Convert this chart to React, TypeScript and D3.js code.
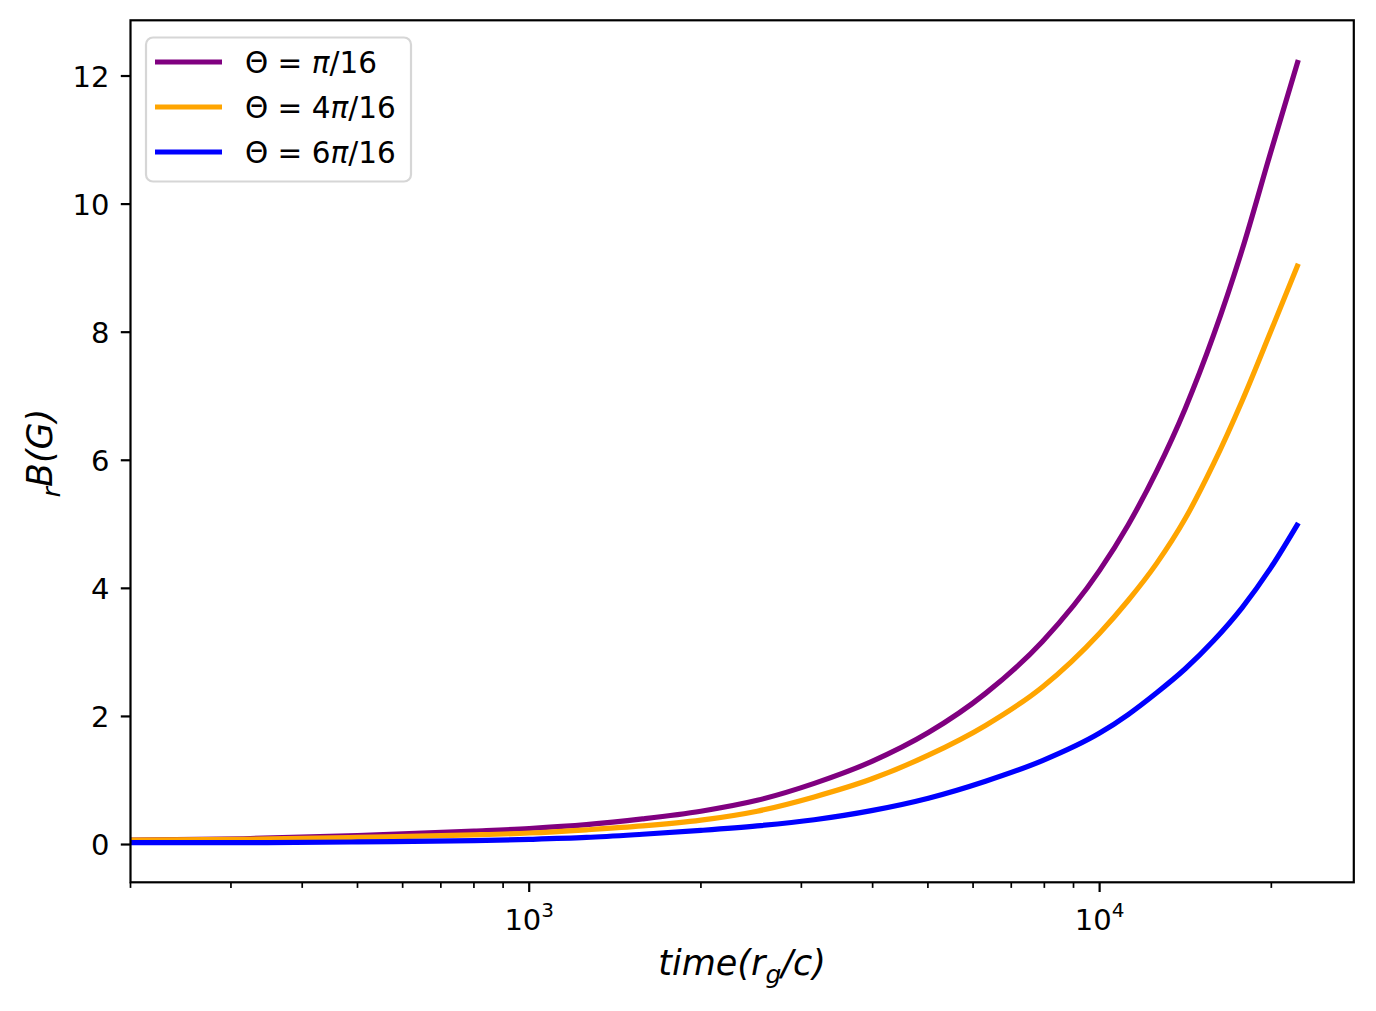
import * as d3 from "d3";

const times = [200, 316, 500, 800, 1000, 1260, 1580, 2000, 2510, 3160, 3980, 5010, 6310, 7940, 10000, 11220, 12590, 14130, 15850, 17780, 19950, 22300];
const thetaPi16 = [0.07, 0.09, 0.14, 0.21, 0.25, 0.31, 0.4, 0.52, 0.69, 0.955, 1.294, 1.748, 2.36, 3.17, 4.28, 4.99, 5.83, 6.81, 7.96, 9.29, 10.81, 12.25];
const theta4Pi16 = [0.07, 0.08, 0.11, 0.15, 0.18, 0.23, 0.29, 0.38, 0.52, 0.743, 1.022, 1.395, 1.86, 2.46, 3.3, 3.81, 4.39, 5.09, 5.95, 6.93, 8.01, 9.07];
const theta6Pi16 = [0.03, 0.03, 0.04, 0.06, 0.08, 0.11, 0.16, 0.22, 0.29, 0.387, 0.529, 0.723, 0.988, 1.31, 1.74, 2.03, 2.37, 2.745, 3.185, 3.7, 4.32, 5.02];

const seriesNames = ["", "4", "6"];
const seriesColors = ["#800080", "#FFA500", "#0000FF"];
const yTicks = [0, 2, 4, 6, 8, 10, 12];
const xMajor = [1000, 10000];

const W = 1376;
const H = 1011;
const left = 130.5;
const right = 1353.8;
const top = 20.3;
const bottom = 882.3;
const font = "DejaVu Sans, Liberation Sans, sans-serif";

export default function App() {
  const x = d3.scaleLog().domain([200, 27900]).range([left, right]);
  const y = d3.scaleLinear().domain([-0.59, 12.87]).range([bottom, top]);

  const series = [thetaPi16, theta4Pi16, theta6Pi16];
  const line = d3
    .line<number>()
    .x((_, i) => x(times[i]))
    .y((d) => y(d))
    .curve(d3.curveMonotoneX);

  const minor = x.ticks().filter((t) => !xMajor.includes(t));

  return (
    <svg
      width={W}
      height={H}
      style={{ position: "absolute", left: 0, top: 0, background: "white" }}
      fontFamily={font}
    >
      <rect x={0} y={0} width={W} height={H} fill="white" />

      {series.map((s, i) => (
        <path
          key={i}
          d={line(s) ?? ""}
          fill="none"
          stroke={seriesColors[i]}
          strokeWidth={5.2}
          strokeLinecap="butt"
          strokeLinejoin="round"
        />
      ))}

      {/* frame */}
      <rect
        x={left}
        y={top}
        width={right - left}
        height={bottom - top}
        fill="none"
        stroke="black"
        strokeWidth={2.2}
      />

      {/* y axis */}
      {yTicks.map((t) => (
        <g key={t}>
          <line x1={left} x2={left - 9.7} y1={y(t)} y2={y(t)} stroke="black" strokeWidth={2.2} />
          <text x={left - 21} y={y(t) + 10.5} textAnchor="end" fontSize={29}>
            {t}
          </text>
        </g>
      ))}

      {/* x axis */}
      {minor.map((t) => (
        <line key={t} x1={x(t)} x2={x(t)} y1={bottom} y2={bottom + 5.6} stroke="black" strokeWidth={1.7} />
      ))}
      {xMajor.map((t) => (
        <g key={t}>
          <line x1={x(t)} x2={x(t)} y1={bottom} y2={bottom + 9.7} stroke="black" strokeWidth={2.2} />
          <text x={x(t)} y={bottom + 48} textAnchor="middle" fontSize={29}>
            10
            <tspan fontSize={20} dy={-13}>
              {Math.round(Math.log10(t))}
            </tspan>
          </text>
        </g>
      ))}

      <text x={(left + right) / 2} y={975} textAnchor="middle" fontSize={35} fontStyle="italic">
        time(r
        <tspan fontSize={25} dy={8}>g</tspan>
        <tspan dy={-8}>/c)</tspan>
      </text>

      <text transform={`translate(52,453) rotate(-90)`} textAnchor="middle" fontSize={35} fontStyle="italic">
        <tspan fontSize={25} dy={8}>r</tspan>
        <tspan dy={-8}>B(G)</tspan>
      </text>

      {/* legend */}
      <rect x={146} y={37.5} width={265} height={144} rx={7} fill="white" fillOpacity={0.8} stroke="#d6d6d6" strokeWidth={2.2} />
      {seriesNames.map((n, i) => {
        const ly = 62 + i * 45;
        return (
          <g key={i}>
            <line x1={155} x2={222} y1={ly} y2={ly} stroke={seriesColors[i]} strokeWidth={5.2} />
            <text x={245} y={ly + 10.5} fontSize={29.5}>
              Θ = {n}
              <tspan fontStyle="italic">π</tspan>
              /16
            </text>
          </g>
        );
      })}
    </svg>
  );
}
